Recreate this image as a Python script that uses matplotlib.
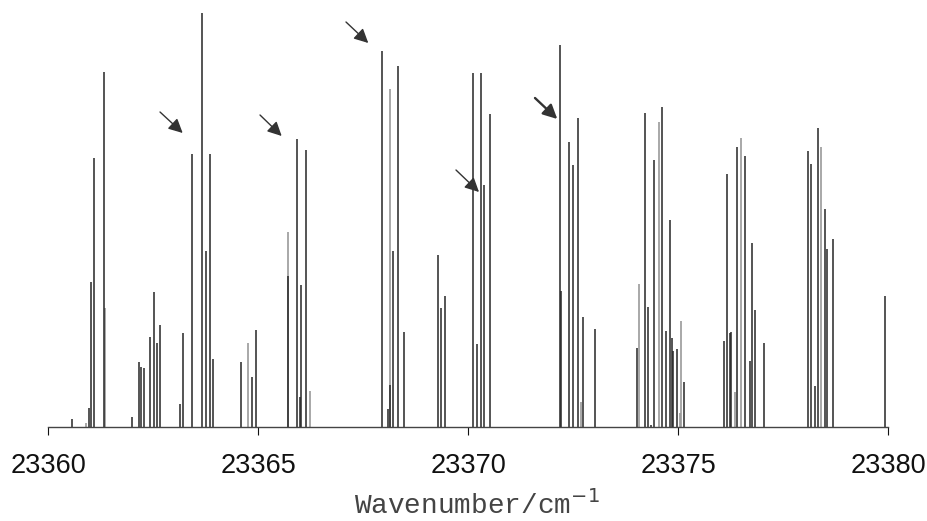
import matplotlib
matplotlib.use("Agg")
import matplotlib.pyplot as plt

# stick spectrum: line positions (cm-1) and relative heights
dark_pos = [23360.571, 23360.983, 23361.017, 23361.095, 23361.326, 23361.993,
            23362.174, 23362.207, 23362.293, 23362.429, 23362.524, 23362.588,
            23362.660, 23363.150, 23363.207, 23363.436, 23363.660, 23363.755,
            23363.850, 23363.921, 23364.588, 23364.864, 23364.960, 23365.721,
            23365.921, 23366.007, 23366.017, 23366.143, 23367.960, 23368.088,
            23368.143, 23368.221, 23368.333, 23368.476, 23369.286, 23369.364,
            23369.452, 23370.112, 23370.221, 23370.302, 23370.388, 23370.524,
            23372.190, 23372.214, 23372.412, 23372.493, 23372.612, 23372.745,
            23373.024, 23374.024, 23374.214, 23374.279, 23374.357, 23374.436,
            23374.626, 23374.714, 23374.802, 23374.850, 23374.881, 23374.969,
            23375.136, 23376.102, 23376.174, 23376.238, 23376.269, 23376.405,
            23376.602, 23376.714, 23376.769, 23376.826, 23377.048, 23378.095,
            23378.160, 23378.270, 23378.326, 23378.493, 23378.540, 23378.683,
            23379.936]
dark_int = [8, 19, 145, 269, 355, 10,
            65, 60, 59, 90, 135, 84,
            102, 23, 94, 273, 414, 176,
            273, 68, 65, 50, 97, 151,
            288, 30, 142, 277, 376, 18,
            42, 176, 361, 95, 172, 119,
            131, 354, 83, 354, 242, 313,
            382, 136, 285, 262, 309, 110,
            98, 79, 314, 120, 2, 267,
            320, 96, 207, 89, 76, 78,
            45, 86, 253, 94, 95, 280,
            271, 66, 184, 117, 84, 276,
            263, 41, 299, 218, 178, 188,
            131]

grey_pos = [23360.905, 23361.364, 23364.769, 23365.721, 23366.238, 23368.143,
            23372.690, 23374.064, 23374.540, 23375.040, 23375.079, 23376.350,
            23376.500, 23378.412]
grey_int = [4, 119, 84, 195, 36, 338,
            25, 143, 305, 14, 106, 35,
            289, 280]

# arrows: (tail x, tail y, head x, head y)
arrows = [(23362.667, 315, 23363.207, 294),
          (23365.048, 312, 23365.564, 291),
          (23367.095, 405, 23367.626, 384),
          (23369.714, 257, 23370.262, 235),
          (23371.595, 329, 23372.126, 308)]

ticks = [23360, 23365, 23370, 23375, 23380]

fig = plt.figure(figsize=(9.27, 5.21), dpi=100)
ax = fig.add_axes([48 / 927, 94 / 521, 840 / 927, 427 / 521])

ax.vlines(grey_pos, 0, grey_int, colors="#999999", lw=1.2)
ax.vlines(dark_pos, 0, dark_int, colors="#262626", lw=1.1)

for i, (x0, y0, x1, y1) in enumerate(arrows):
    w = 1.7 if i == 4 else 1.0
    ax.annotate("", xy=(x1, y1), xytext=(x0, y0),
                arrowprops=dict(arrowstyle="-|>,head_length=0.5,head_width=0.25",
                                color="#333333", lw=w,
                                mutation_scale=17, shrinkA=0, shrinkB=0))

ax.set_xlim(23360, 23380)
ax.set_ylim(0, 427)
for s in ["top", "left", "right"]:
    ax.spines[s].set_visible(False)
ax.spines["bottom"].set_color("#444444")
ax.spines["bottom"].set_linewidth(1.0)
ax.set_yticks([])
ax.set_xticks(ticks)
ax.set_xticklabels([str(t) for t in ticks], fontfamily="Liberation Sans", fontsize=19.5)
ax.tick_params(axis="x", length=6, width=0.8, pad=13, colors="#111111")
tick_cols = ["#dddddd", "#555555", "#555555", "#ffffff", "#dddddd"]
for t, c in zip(ax.xaxis.get_major_ticks(), tick_cols):
    t.tick1line.set_color(c)

ax.set_xlabel("Wavenumber/cm$^{-1}$", fontfamily="Liberation Mono", fontsize=20,
              color="#444444")
ax.xaxis.set_label_coords((477 - 48) / 840, -0.148)
ax.xaxis.label.set_va("top")

fig.savefig("out.png", dpi=100, facecolor="white")
